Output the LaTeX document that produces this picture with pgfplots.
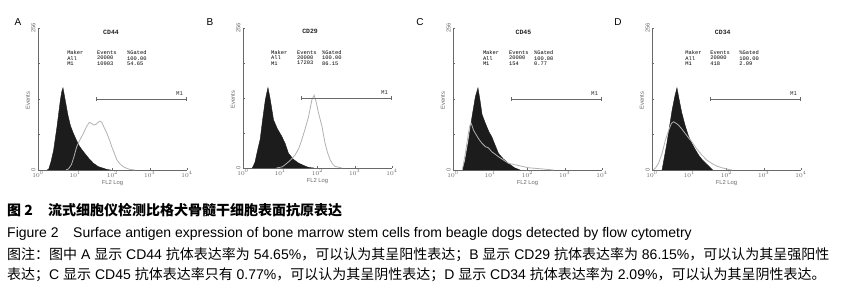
\documentclass[border=0pt]{standalone}
\usepackage{pgfplots}
\pgfplotsset{compat=1.18}
\usepackage{fontspec}
\setmainfont{Liberation Sans}
\newfontfamily\cjk{Noto Sans CJK SC}
\newfontfamily\mono{Liberation Mono}
\definecolor{hist}{RGB}{28,28,28}
\definecolor{ctrl}{RGB}{178,178,178}
\definecolor{tickc}{RGB}{105,105,105}
\pgfplotsset{flow/.style={
  scale only axis, width=149pt, height=142pt,
  xmin=0, xmax=4, ymin=0, ymax=256,
  axis x line*=bottom, axis y line*=left,
  axis line style={-, draw=tickc, line width=0.5pt},
  xtick={0,1,2,3,4},
  xticklabels={$10^{0}$,$10^{1}$,$10^{2}$,$10^{3}$,$10^{4}$},
  ytick={0,64,128,192,256}, yticklabels={0,,,,256},
  major tick length=1.8pt, tick style={draw=tickc, line width=0.5pt},
  tick label style={font=\fontsize{5.8}{6}\selectfont, text=tickc},
  xticklabel style={anchor=center, yshift=-4.5pt},
  yticklabel style={xshift=-4.5pt, rotate=90, anchor=center},
  xlabel={FL2 Log}, ylabel={Events},
  label style={font=\fontsize{5.8}{6}\selectfont, text=tickc},
  xlabel style={at={(axis description cs:0.5,-0.092)}, anchor=center},
  ylabel style={at={(axis description cs:-0.067,0.49)}, anchor=center},
  clip=false,
}}
\newcommand{\gate}{%
  \draw[tickc, line width=0.5pt] (axis cs:1.56,128) -- (axis cs:3.99,128);
  \draw[tickc, line width=0.5pt] (axis cs:1.56,124) -- (axis cs:1.56,132);
  \draw[tickc, line width=0.5pt] (axis cs:3.99,124) -- (axis cs:3.99,132);
  \node[font=\mono\fontsize{5.8}{6}\selectfont, text=black!80] at (axis cs:3.8,137) {M1};}
\newcommand{\stats}[5]{%
  \node[anchor=north west, align=left, inner sep=0, font=\mono\fontsize{5.4}{5.3}\selectfont] at (axis cs:#1,215) {Maker\\All\\M1};
  \node[anchor=north west, align=left, inner sep=0, font=\mono\fontsize{5.4}{5.3}\selectfont] at (axis cs:#2,215) {Events\\20000\\#4};
  \node[anchor=north west, align=left, inner sep=0, font=\mono\fontsize{5.4}{5.3}\selectfont] at (axis cs:#3,215) {\%Gated\\100.00\\#5};}
\begin{document}
\begin{tikzpicture}
\fill[white] (0,0) rectangle (846pt,294pt);
% ---------- A ----------
\begin{axis}[flow, at={(38pt,124pt)}, anchor=south west]
\addplot[fill=hist, draw=hist] coordinates {
(0.25,0) (0.29,2) (0.35,15) (0.42,36) (0.51,78) (0.60,126) (0.64,142) (0.67,148)
(0.72,130) (0.80,100) (0.87,80) (0.95,66) (1.03,54) (1.12,42) (1.22,33) (1.35,22)
(1.49,12) (1.62,6) (1.76,3) (1.85,1) (1.95,0)} \closedcycle;
\addplot[ctrl, line width=0.8pt] coordinates {
(0.75,0) (0.82,2) (0.90,10) (0.97,25) (1.04,42) (1.13,55) (1.22,66) (1.30,78)
(1.38,86) (1.44,84) (1.49,81) (1.55,82) (1.60,85) (1.66,88) (1.71,86) (1.78,76)
(1.85,66) (1.92,54) (1.98,42) (2.05,30) (2.12,18) (2.20,11) (2.29,6) (2.38,3)
(2.47,1) (2.60,0)};
\node[font=\mono\bfseries\fontsize{6.5}{7}\selectfont, text=black!85] at (axis cs:1.96,249) {CD44};
\stats{0.78}{1.58}{2.39}{10903}{54.65}
\gate
\end{axis}
% ---------- B ----------
\begin{axis}[flow, at={(243pt,126pt)}, anchor=south west, height=140pt]
\addplot[fill=hist, draw=hist] coordinates {
(0.25,0) (0.32,10) (0.40,35) (0.46,52) (0.53,90) (0.60,125) (0.67,147) (0.72,130)
(0.82,88) (0.92,72) (1.04,58) (1.13,45) (1.22,27) (1.35,16) (1.49,9) (1.65,4)
(1.76,1) (1.90,0)} \closedcycle;
\addplot[ctrl, line width=0.8pt] coordinates {
(0.90,0) (1.05,2) (1.13,6) (1.27,14) (1.40,24) (1.50,36) (1.58,52) (1.67,72)
(1.76,94) (1.85,125) (1.91,133) (1.96,122) (2.03,100) (2.12,76) (2.20,46)
(2.27,28) (2.34,15) (2.41,7) (2.47,3) (2.65,0)};
\node[font=\mono\bfseries\fontsize{6.5}{7}\selectfont, text=black!85] at (axis cs:1.8,249) {CD29};
\stats{0.75}{1.45}{2.12}{17203}{86.15}
\gate
\end{axis}
% ---------- C ----------
\begin{axis}[flow, at={(453pt,124pt)}, anchor=south west]
\addplot[fill=hist, draw=hist] coordinates {
(0.25,0) (0.32,15) (0.42,54) (0.51,96) (0.60,132) (0.67,148) (0.72,128) (0.78,100)
(0.87,84) (0.97,68) (1.04,60) (1.13,45) (1.22,30) (1.35,20) (1.49,12) (1.65,4)
(1.80,0)} \closedcycle;
\addplot[ctrl, line width=0.8pt] coordinates {
(0.25,0) (0.32,25) (0.40,60) (0.45,80) (0.49,84) (0.55,72) (0.60,66) (0.70,55)
(0.78,48) (0.87,42) (0.95,40) (1.04,33) (1.22,24) (1.49,12) (1.76,8) (2.03,4)
(2.38,2) (2.70,0)};
\node[font=\mono\bfseries\fontsize{6.5}{7}\selectfont, text=black!85] at (axis cs:1.89,249) {CD45};
\stats{0.80}{1.50}{2.17}{154}{0.77}
\gate
\end{axis}
% ---------- D ----------
\begin{axis}[flow, at={(652pt,124pt)}, anchor=south west]
\addplot[fill=hist, draw=hist] coordinates {
(0.27,0) (0.40,48) (0.54,108) (0.62,135) (0.67,148) (0.72,130) (0.80,103) (0.89,80)
(0.98,61) (1.07,48) (1.16,37) (1.25,27) (1.34,19) (1.52,7) (1.63,0)} \closedcycle;
\addplot[ctrl, line width=0.8pt] coordinates {
(0.03,0) (0.10,4) (0.18,13) (0.27,30) (0.36,54) (0.45,72) (0.52,84) (0.58,87)
(0.65,84) (0.71,81) (0.80,74) (0.89,66) (0.98,58) (1.07,51) (1.20,38) (1.34,27)
(1.47,18) (1.60,12) (1.74,7) (1.88,4) (2.05,1) (2.15,0)};
\node[font=\mono\bfseries\fontsize{6.5}{7}\selectfont, text=black!85] at (axis cs:1.9,249) {CD34};
\stats{0.89}{1.56}{2.34}{418}{2.09}
\gate
\end{axis}
% ---------- panel letters ----------
\node[font=\fontsize{10}{12}\selectfont] at (18pt,272pt) {A};
\node[font=\fontsize{10}{12}\selectfont] at (210pt,272pt) {B};
\node[font=\fontsize{10}{12}\selectfont] at (420pt,272pt) {C};
\node[font=\fontsize{10}{12}\selectfont] at (618pt,272pt) {D};
% ---------- caption ----------
\node[anchor=base west, inner sep=0, font=\cjk\bfseries\fontsize{14}{16}\selectfont] at (7pt,78pt) {图 2};
\node[anchor=base west, inner sep=0, font=\cjk\bfseries\fontsize{14}{16}\selectfont] at (48pt,78pt) {流式细胞仪检测比格犬骨髓干细胞表面抗原表达};
\node[anchor=base west, inner sep=0, font=\fontsize{14}{16}\selectfont] at (7pt,56pt) {Figure 2};
\node[anchor=base west, inner sep=0, font=\fontsize{14}{16}\selectfont] at (73pt,56pt) {Surface antigen expression of bone marrow stem cells from beagle dogs detected by flow cytometry};
\node[anchor=base west, inner sep=0, font=\fontsize{14}{16}\selectfont] at (7pt,34pt) {{\cjk 图注：图中} A {\cjk 显示} CD44 {\cjk 抗体表达率为} 54.65\%{\cjk ，可以认为其呈阳性表达；}B {\cjk 显示} CD29 {\cjk 抗体表达率为} 86.15\%{\cjk ，可以认为其呈强阳性}};
\node[anchor=base west, inner sep=0, font=\fontsize{14}{16}\selectfont] at (7pt,14pt) {{\cjk 表达；}C {\cjk 显示} CD45 {\cjk 抗体表达率只有} 0.77\%{\cjk ，可以认为其呈阴性表达；}D {\cjk 显示} CD34 {\cjk 抗体表达率为} 2.09\%{\cjk ，可以认为其呈阴性表达。}};
\pgfresetboundingbox
\path[use as bounding box] (0,0) rectangle (846pt,294pt);
\end{tikzpicture}
\end{document}
